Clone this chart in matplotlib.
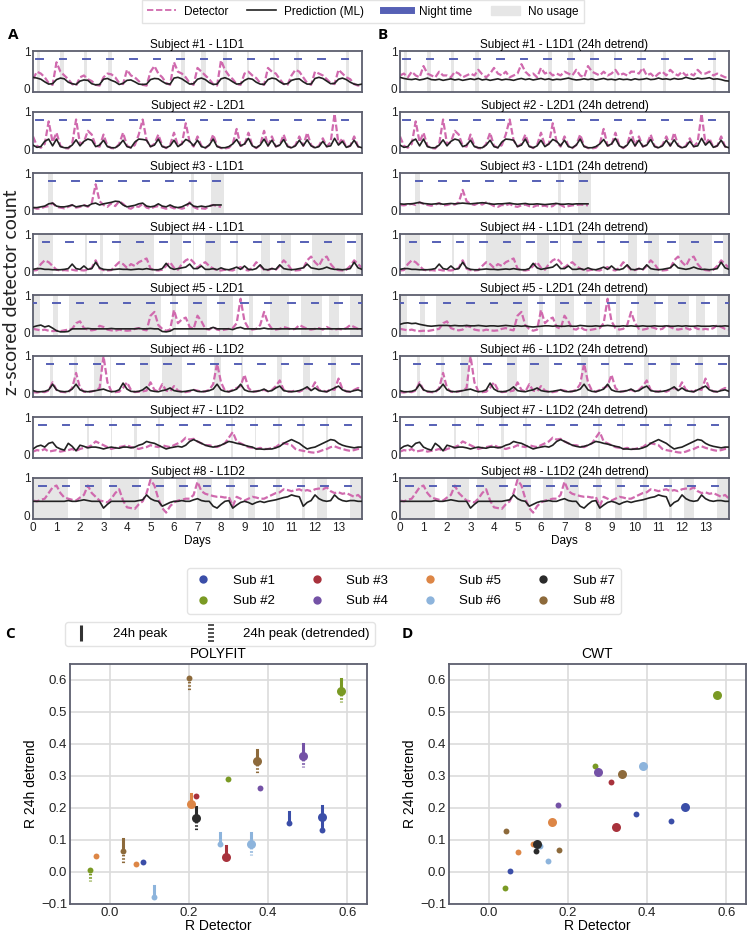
import matplotlib
matplotlib.use("Agg")
import matplotlib.pyplot as plt
import numpy as np
from matplotlib.lines import Line2D
from matplotlib.patches import Patch
from matplotlib.path import Path

plt.rcParams['font.family'] = ['Liberation Sans', 'DejaVu Sans']

# ---------------- data: time series, 6 samples per day (4 h) ----------------
titles = ["Subject #1 - L1D1", "Subject #2 - L2D1", "Subject #3 - L1D1", "Subject #4 - L1D1",
          "Subject #5 - L2D1", "Subject #6 - L1D2", "Subject #7 - L1D2", "Subject #8 - L1D2"]

det1 = [25,45,40,30,15,10, 70,45,35,25,12,8, 30,35,25,20,10,8, 30,40,38,30,15,12,
        50,35,30,20,10,8, 45,60,40,30,15,10, 70,45,40,30,15,10, 55,45,35,25,12,8,
        75,50,35,25,12,10, 40,45,35,28,15,10, 55,45,40,25,12,10, 35,50,45,30,15,10,
        45,40,35,25,15,12, 50,40,30,25,12,8, 10]
pred1 = [30,28,25,18,12,13, 24,28,26,17,13,11, 20,23,22,13,10,11, 25,27,22,18,11,14,
         22,23,18,12,11,12, 24,27,26,19,13,12, 28,30,26,19,12,13, 25,28,24,16,11,12,
         26,29,25,18,12,13, 22,27,25,17,12,11, 24,28,26,18,12,13, 22,25,26,18,12,12,
         27,30,27,20,13,14, 25,28,24,17,12,10, 12]
det1_b = [35,40,30,45,35,30, 60,40,35,30,45,35, 35,30,45,40,30,35, 40,35,50,38,30,40,
          55,40,35,45,30,35, 40,65,45,35,40,30, 55,40,45,35,40,35, 45,40,35,50,35,30,
          60,45,40,35,45,35, 40,50,35,40,35,45, 45,40,55,35,40,30, 40,45,35,50,40,35,
          45,35,40,35,50,40, 40,45,35,40,35,30, 30]
pred1_b = [30,27,25,24,26,23, 25,28,24,23,25,22, 24,26,23,25,22,24, 26,24,27,23,25,22,
           24,26,23,25,24,22, 25,27,24,26,23,25, 27,24,26,23,25,24, 26,28,25,23,24,26,
           24,26,23,25,27,24, 25,23,26,24,25,23, 26,24,25,27,24,25, 28,25,26,24,27,25,
           26,30,27,25,28,26, 27,29,25,26,24,21, 20]

det2 = [35,10,5,15,75,20, 45,10,4,3,15,80, 15,20,50,40,10,8, 40,10,4,3,15,45,
        10,5,12,40,80,25, 8,15,40,10,4,12, 45,10,15,70,20,8, 35,10,4,12,40,10,
        4,3,5,15,55,10, 12,45,10,4,12,50, 10,35,8,12,40,10, 4,12,35,10,45,12,
        4,10,30,8,20,95, 15,30,6,10,35,8, 5]
pred2 = [12,6,8,22,28,10, 28,8,5,5,12,26, 10,22,28,25,8,12, 25,8,5,5,12,25,
         8,5,20,28,27,25, 8,12,28,8,5,10, 25,8,15,27,22,10, 25,8,5,12,28,8,
         5,5,8,15,27,10, 15,30,10,5,12,28, 10,25,8,12,27,8, 5,10,25,10,26,10,
         5,8,22,8,10,30, 12,22,6,10,25,8, 5]

det3 = [8,5,6,10,12,20, 10,8,6,10,15,8, 10,15,10,20,70,25, 15,10,20,12,25,18,
        8,5,12,10,18,8, 5,10,12,8,5,10, 6,8,5,8,22,10, 5,6,5,12,15,12, 10]
pred3 = [8,8,10,12,18,20, 12,10,10,12,15,10, 12,14,12,18,20,15, 18,20,22,25,24,15,
         10,12,14,18,20,12, 10,12,18,12,10,15, 10,8,10,15,20,12, 10,12,10,12,15,15, 15]
det3_b = [15,14,16,18,15,22, 18,15,13,16,20,14, 15,18,16,22,55,25, 18,15,20,16,22,18,
          12,10,15,14,18,12, 10,14,16,12,10,14, 12,13,10,12,20,15, 10,12,14,15,16,15, 14]
pred3_b = [18,17,18,18,20,22, 19,18,17,18,19,17, 18,19,18,19,20,19, 18,19,20,21,20,18,
           17,18,18,19,20,18, 17,18,19,17,17,18, 17,16,17,18,19,17, 17,18,17,18,18,18, 18]

det4 = [3,4,20,30,25,15, 5,3,4,3,5,3, 4,3,5,10,30,8, 4,3,4,15,25,20,
        10,20,15,25,30,35, 8,4,3,5,15,25, 10,5,20,30,35,25, 10,20,25,15,8,4,
        3,5,4,3,8,12, 5,3,10,25,15,5, 4,8,5,15,30,20, 5,3,4,8,30,40,
        25,15,35,40,20,8, 4,3,5,15,30,20, 10]
pred4 = [6,8,8,6,6,5, 5,5,6,8,20,8, 6,15,6,8,25,10, 6,5,5,6,7,6,
         6,5,6,7,6,8, 6,5,5,8,22,10, 6,8,10,12,20,8, 8,15,6,6,8,5,
         10,6,5,8,12,6, 15,6,5,8,18,6, 5,8,6,18,8,6, 5,6,8,10,20,10,
         8,6,8,12,8,6, 6,5,6,8,25,10, 6]

det5 = [10,8,6,8,5,4, 5,4,6,8,10,25, 30,12,8,6,8,18, 15,8,6,5,8,6,
        5,6,10,12,8,6, 45,55,20,10,5,8, 60,25,35,40,15,10, 45,30,10,8,15,8,
        6,8,10,12,25,90, 30,12,8,10,20,55, 25,10,8,10,15,12, 8,10,20,15,10,8,
        10,12,8,15,10,8, 10,8,12,20,15,10, 8]
pred5 = [15,18,20,15,18,12, 5,2,2,3,10,10, 10,10,11,10,10,10, 10,10,11,10,10,10,
         10,10,10,11,10,10, 11,10,10,3,2,4, 10,10,10,10,10,10, 10,10,10,10,14,10,
         10,10,10,8,12,14, 10,10,10,10,10,12, 10,10,10,10,10,10, 10,10,10,10,10,10,
         10,10,10,10,10,10, 10,10,10,10,10,10, 10]
pred5_b = [22,25,26,24,25,22, 20,18,17,18,19,19, 19,18,19,18,18,19, 18,18,19,18,17,18,
           18,17,18,19,18,17, 18,17,18,16,15,16, 17,18,18,17,18,17, 17,18,17,17,19,18,
           17,17,18,17,18,19, 18,17,17,18,17,18, 17,17,18,17,17,18, 17,17,18,17,17,18,
           17,18,17,17,18,17, 17,17,18,17,17,18, 17]

det6 = [4,3,5,4,8,30, 10,5,4,3,15,55, 15,5,4,6,8,15, 100,30,6,4,5,15,
        30,10,4,5,6,8, 30,10,5,25,8,6, 20,8,5,4,6,10, 8,5,6,10,25,80,
        30,8,5,10,15,20, 50,15,5,6,8,10, 6,10,20,35,10,5, 6,8,5,10,15,10,
        30,10,8,5,12,10, 40,12,6,5,10,15, 8]
pred6 = [8,5,5,6,10,25, 10,6,5,6,12,25, 10,6,5,6,8,10, 12,8,5,6,10,28,
         12,6,5,6,10,18, 8,6,5,8,10,15, 8,6,5,6,8,10, 6,5,6,8,12,25,
         10,6,5,8,12,25, 10,6,5,6,8,12, 6,8,15,20,8,6, 5,6,8,12,18,8,
         15,8,6,5,10,15, 20,10,6,5,8,10, 6]

det7 = [8,12,10,15,8,10, 12,8,10,12,15,10, 15,18,20,25,35,30, 25,20,15,18,20,22,
        25,20,18,15,18,20, 25,22,20,25,22,20, 25,30,35,45,40,42, 35,30,25,25,22,20,
        25,30,45,60,35,30, 25,20,18,15,18,15, 15,18,20,28,30,28, 25,15,12,10,8,6,
        5,8,12,15,20,22, 18,15,12,10,12,15, 15]
pred7 = [15,22,25,20,30,33, 20,15,12,30,22,10, 25,22,18,20,20,18, 15,18,20,18,17,20,
         20,18,20,25,28,35, 32,30,25,20,15,18, 20,22,20,25,35,40, 35,30,25,22,20,22,
         25,30,35,33,30,28, 25,22,20,15,15,14, 15,15,18,22,30,35, 40,35,30,22,15,18,
         20,25,30,35,40,38, 30,25,22,20,18,20, 20]

det8 = [40,38,42,45,60,75, 80,60,48,45,42,40, 48,55,80,60,50,40, 38,35,45,60,70,40,
        22,20,18,30,38,60, 95,80,45,20,8,25, 35,40,42,45,45,55, 90,65,58,55,52,50,
        50,48,50,25,50,45, 40,45,50,48,45,45, 50,55,60,62,70,68, 65,68,70,65,68,65,
        70,72,70,75,65,60, 62,58,60,55,50,55, 45]
pred8 = [38,38,38,38,38,38, 38,38,38,40,38,38, 40,42,40,38,38,38, 20,30,38,38,38,38,
         38,38,38,40,42,55, 45,40,38,25,30,35, 38,38,40,38,38,42, 45,40,38,38,25,20,
         30,38,40,20,28,35, 38,35,30,35,38,35, 38,40,42,45,48,50, 55,52,50,25,35,40,
         55,45,40,38,40,55, 45,40,38,40,40,38, 38]

det_a = [det1, det2, det3, det4, det5, det6, det7, det8]
pred_a = [pred1, pred2, pred3, pred4, pred5, pred6, pred7, pred8]
det_b = [det1_b, det2, det3_b, det4, det5, det6, det7, det8]
pred_b = [pred1_b, pred2, pred3_b, pred4, pred5_b, pred6, pred7, pred8]

# night-time centre (fraction of day) and number of days recorded
night_offset = [0.27, 0.27, 0.81, 0.55, 0.0, 0.73, 0.4, 0.4]
n_days = [14, 14, 8.1, 14, 14, 14, 14, 14]

no_usage = [
    [(0.15, 0.3), (1.15, 1.3), (2.15, 2.3), (3.2, 3.35), (6.3, 6.45), (7.15, 7.35), (8.1, 8.25),
     (9.1, 9.2), (10.2, 10.3), (11.2, 11.3), (13.3, 13.45)],
    [],
    [(0.64, 0.86), (6.74, 6.86), (7.57, 8.11)],
    [(0.21, 0.86), (2.2, 2.3), (2.83, 2.97), (3.64, 5.14), (5.83, 6.36), (6.8, 6.86), (7.3, 8.0),
     (8.64, 8.74), (9.7, 10.07), (10.54, 11.0), (11.86, 13.29), (13.74, 14.0)],
    [(0.0, 0.31), (0.86, 1.07), (1.54, 5.43), (5.9, 6.1), (6.6, 7.4), (7.9, 8.5), (9.2, 9.35),
     (10.1, 10.9), (11.4, 12.3), (12.6, 13.0), (13.5, 14.0)],
    [(0.71, 0.86), (1.74, 1.89), (2.6, 2.93), (3.26, 3.33), (4.57, 4.97), (5.5, 6.36), (6.83, 6.86),
     (7.71, 8.0), (8.86, 8.93), (10.4, 10.6), (11.5, 11.8), (12.7, 12.9)],
    [(2.31, 2.37), (3.31, 3.37), (4.31, 4.43), (5.31, 5.4), (8.43, 8.5), (9.43, 9.5), (10.43, 10.5),
     (11.45, 11.55), (12.45, 12.55)],
    [(0.0, 1.5), (2.0, 2.93), (3.29, 4.5), (4.97, 5.57), (6.07, 6.5), (6.99, 7.6), (8.36, 8.57),
     (9.14, 9.43), (10.36, 10.5), (11.43, 11.57), (12.07, 12.5), (13.5, 14.0)],
]

# ---------------- data: correlation scatter ----------------
sub_names = ["Sub #1", "Sub #2", "Sub #3", "Sub #4", "Sub #5", "Sub #6", "Sub #7", "Sub #8"]
sub_colors = ["#3b4ea8", "#7a9a24", "#a8323c", "#7452a6", "#dd8646", "#8db4dc", "#2b2b2b", "#8d6a3b"]

# POLYFIT: subject index, R detector, R detrend, size, line up, line down
poly_sub = [0, 0, 0, 0, 1, 1, 1, 2, 2, 3, 3, 4, 4, 4, 5, 5, 5, 6, 7, 7, 7]
poly_x = [0.084, 0.454, 0.536, 0.536, -0.050, 0.299, 0.584, 0.218, 0.293, 0.489, 0.379,
          -0.034, 0.067, 0.206, 0.113, 0.279, 0.357, 0.218, 0.034, 0.371, 0.200]
poly_y = [0.031, 0.154, 0.173, 0.131, 0.007, 0.291, 0.567, 0.236, 0.046, 0.364, 0.262,
          0.050, 0.025, 0.212, -0.078, 0.087, 0.088, 0.168, 0.066, 0.346, 0.605]
poly_big = [0, 0, 1, 0, 0, 0, 1, 0, 1, 1, 0, 0, 0, 1, 0, 0, 1, 1, 0, 1, 0]
poly_up = [0, 0.034, 0.034, 0.04, 0, 0, 0.035, 0, 0.035, 0.036, 0, 0, 0, 0.033, 0.035, 0.035,
           0.035, 0.036, 0.036, 0.036, 0]
poly_dn = [0, 0, 0, 0, 0.035, 0, 0.035, 0, 0, 0.037, 0, 0, 0, 0, 0, 0, 0.036, 0.037, 0.037,
           0.037, 0.035]

# CWT
cwt_sub = [1, 1, 1, 5, 3, 7, 2, 3, 0, 0, 0, 4, 2, 7, 4, 5, 6, 6, 7, 4, 5, 0]
cwt_x = [0.578, 0.268, 0.042, 0.389, 0.276, 0.338, 0.308, 0.175, 0.496, 0.372, 0.461, 0.161,
         0.321, 0.044, 0.111, 0.130, 0.123, 0.119, 0.179, 0.074, 0.149, 0.055]
cwt_y = [0.552, 0.330, -0.049, 0.330, 0.312, 0.306, 0.281, 0.208, 0.204, 0.181, 0.158, 0.157,
         0.141, 0.129, 0.089, 0.082, 0.089, 0.066, 0.069, 0.061, 0.035, 0.003]
cwt_big = [1, 0, 0, 1, 1, 1, 0, 0, 1, 0, 0, 1, 1, 0, 0, 0, 1, 0, 0, 0, 0, 0]

# ---------------- figure ----------------
W, H = 748, 935
fig = plt.figure(figsize=(W / 100, H / 100), dpi=100)

pink = "#d06aae"
spine_col = "#5d5f6e"
night_col = "#5660b5"
grey = "#e6e6e6"


def px_axes(left, top, width, height):
    return fig.add_axes([left / W, 1 - (top + height) / H, width / W, height / H])


def style_spines(ax):
    for s in ax.spines.values():
        s.set_color(spine_col)
        s.set_linewidth(1.3)


for col, (dets, preds, x0, suffix) in enumerate([(det_a, pred_a, 33, ""),
                                                  (det_b, pred_b, 400, " (24h detrend)")]):
    for i in range(8):
        ax = px_axes(x0, 51 + 61 * i, 329, 41)
        for a, b in no_usage[i]:
            ax.axvspan(a, b, color=grey, lw=0, zorder=0)
        d = np.array(dets[i]) / 100
        p = np.array(preds[i]) / 100
        t = np.arange(len(d)) / 6
        ax.plot(t, d, color=pink, lw=1.6, ls=(0, (3, 1.2)), zorder=2)
        ax.plot(t, p, color="#222222", lw=1.2, zorder=3)
        for day in range(15):
            c = day + night_offset[i]
            a, b = max(c - 0.14, 0), min(c + 0.14, 14)
            if b > a and c - 0.14 < n_days[i]:
                ax.plot([a, b], [0.8, 0.8], color=night_col, lw=1.4, zorder=4)
        ax.set_xlim(0, 14)
        ax.set_ylim(-0.09, 1.0)
        ax.set_yticks([0, 1])
        ax.set_yticklabels(["0", "1"])
        ax.tick_params(length=0, labelsize=8.5, pad=2, colors="#222222")
        ax.set_title(titles[i] + suffix, fontsize=8.5, pad=2)
        style_spines(ax)
        if i == 7:
            ax.set_xticks(range(14))
            ax.set_xlabel("Days", fontsize=8.5, labelpad=1)
        else:
            ax.set_xticks([])

fig.text(8 / W, 1 - 35 / H, "A", fontsize=11, fontweight="bold", family="Open Sans", va="center")
fig.text(378 / W, 1 - 35 / H, "B", fontsize=11, fontweight="bold", family="Open Sans", va="center")
fig.text(12 / W, 1 - 292 / H, "z-scored detector count", rotation=90, fontsize=14,
         family="Lato", ha="center", va="center", color="#222222")

top_handles = [Line2D([], [], color=pink, lw=1.3, ls=(0, (3.5, 1.5))),
               Line2D([], [], color="#222222", lw=1.2),
               Line2D([], [], color=night_col, lw=5),
               Patch(color=grey)]
fig.legend(top_handles, ["Detector", "Prediction (ML)", "Night time", "No usage"],
           loc="upper center", bbox_to_anchor=(363 / W, 1.006), ncol=4, fontsize=8.5,
           frameon=True, edgecolor="#dddddd", fancybox=False, handlelength=2.4,
           columnspacing=1.6, handletextpad=0.7, borderpad=0.45)

# scatter panels
sizes = [18, 42]


def scatter_axes(left, title):
    ax = px_axes(left, 664, 297, 240)
    ax.set_xlim(-0.1, 0.65)
    ax.set_ylim(-0.1, 0.65)
    ax.set_xticks([0.0, 0.2, 0.4, 0.6])
    ax.set_yticks(np.arange(-0.1, 0.61, 0.1))
    ax.yaxis.set_major_formatter(plt.FuncFormatter(lambda v, _: f"{v:.1f}".replace("-", "\u2212")))
    ax.grid(color="#dcdcdc", lw=1.2)
    ax.set_axisbelow(True)
    ax.tick_params(length=0, labelsize=9.5, pad=2, colors="#222222")
    ax.set_title(title, fontsize=10, pad=4)
    ax.set_xlabel("R Detector", fontsize=10, labelpad=0)
    ax.set_ylabel("R 24h detrend", fontsize=10, labelpad=2)
    style_spines(ax)
    return ax


axc = scatter_axes(70, "POLYFIT")
for k in range(len(poly_x)):
    c = sub_colors[poly_sub[k]]
    x, y = poly_x[k], poly_y[k]
    if poly_up[k]:
        axc.plot([x, x], [y, y + poly_up[k]], color=c, lw=2.2, zorder=2)
    if poly_dn[k]:
        axc.plot([x, x], [y, y - poly_dn[k]], color=c, lw=2.2, ls=(0, (0.5, 0.6)), zorder=2)
    axc.scatter(x, y, s=sizes[poly_big[k]], color=c, lw=0, zorder=3)

axd = scatter_axes(449, "CWT")
for k in range(len(cwt_x)):
    axd.scatter(cwt_x[k], cwt_y[k], s=sizes[cwt_big[k]], color=sub_colors[cwt_sub[k]], lw=0, zorder=3)

fig.text(5 / W, 1 - 634 / H, "C", fontsize=11, fontweight="bold", family="Open Sans", va="center")
fig.text(402 / W, 1 - 634 / H, "D", fontsize=11, fontweight="bold", family="Open Sans", va="center")

sub_handles = [Line2D([], [], ls="", marker="o", ms=6, mec="none", color=c) for c in sub_colors]
fig.legend(sub_handles, sub_names, loc="center", bbox_to_anchor=(404 / W, 1 - 591 / H), ncol=4,
           fontsize=9.5, frameon=True, edgecolor="#dddddd", fancybox=True, handlelength=1.5,
           columnspacing=2.4, handletextpad=1.5, labelspacing=0.6, borderpad=0.5)

dots = []
for j in range(5):
    yy = -1 + j * 0.5
    dots += [(-0.35, yy), (0.35, yy)]
dotted_marker = Path(dots, [Path.MOVETO, Path.LINETO] * 5)
peak_handles = [Line2D([], [], ls="", marker="|", ms=11, mew=2.2, color="#333333"),
                Line2D([], [], ls="", marker=dotted_marker, ms=11, mew=1.2, color="#333333")]
fig.legend(peak_handles, ["24h peak", "24h peak (detrended)"], loc="center",
           bbox_to_anchor=(220 / W, 1 - 634 / H), ncol=2, fontsize=9.5, frameon=True,
           edgecolor="#dddddd", fancybox=True, handlelength=1.6, columnspacing=2.5,
           handletextpad=1.6, borderpad=0.45)

fig.savefig("out.png", dpi=100)
